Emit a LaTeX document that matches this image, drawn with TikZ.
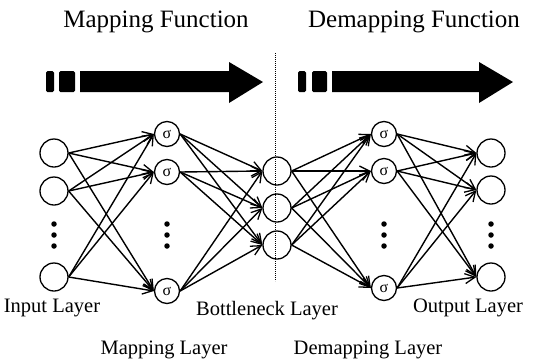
\documentclass[tikz,border=0pt]{standalone}
\usepackage{fontspec}
\setmainfont{Liberation Serif}
\usetikzlibrary{arrows.meta}
\begin{document}
\begin{tikzpicture}[x=1pt,y=-1pt,
  neuron/.style={circle,draw,line width=1.3pt,minimum size=28pt,inner sep=0pt},
  sig/.style={circle,draw,line width=1.3pt,minimum size=25pt,inner sep=0pt,font=\fontsize{16}{16}\selectfont},
  conn/.style={line width=1.4pt,-{Straight Barb[length=10pt,width=10pt,line width=1.3pt]}},
  titletext/.style={anchor=base,inner sep=0pt,font=\fontsize{25}{30}\selectfont},
  labeltext/.style={anchor=base,inner sep=0pt,font=\fontsize{20.5}{24}\selectfont},
  dotmark/.style={circle,fill,inner sep=0pt,minimum size=5.5pt},
  bigarrow/.style={fill=black},
  divider/.style={line width=0.9pt,dash pattern=on 1.2pt off 0.8pt}
]
\useasboundingbox (0,0) rectangle (544,360);

% titles
\node[titletext] (t1) at (156,27) {Mapping Function};
\node[titletext] (t2) at (414,27) {Demapping Function};

% big arrows
\fill[bigarrow,rounded corners=1.5pt] (46,71) rectangle (54,92);
\fill[bigarrow,rounded corners=1.5pt] (59,71) rectangle (75,92);
\fill[bigarrow] (80,71) -- (229,71) -- (229,62) -- (263,82) -- (229,103) -- (229,92) -- (80,92) -- cycle;
\fill[bigarrow,rounded corners=1.5pt] (298,71) rectangle (306,92);
\fill[bigarrow,rounded corners=1.5pt] (312,71) rectangle (327,92);
\fill[bigarrow] (332,71) -- (479,71) -- (479,62) -- (513,82) -- (479,103) -- (479,92) -- (332,92) -- cycle;

% divider
\coordinate (dtop) at (275,53);
\coordinate (dbot) at (275,281);
\draw[divider] (dtop) -- (dbot);

% input layer
\node[neuron] (I1) at (54,153) {};
\node[neuron] (I2) at (54,191) {};
\node[neuron] (I3) at (54,277) {};
% mapping layer
\node[sig] (M1) at (167,134) {σ};
\node[sig] (M2) at (167,172) {σ};
\node[sig] (M3) at (167,291) {σ};
% bottleneck layer
\node[neuron] (B1) at (277,171) {};
\node[neuron] (B2) at (277,208) {};
\node[neuron] (B3) at (277,245) {};
% demapping layer
\node[sig] (D1) at (384,134) {σ};
\node[sig] (D2) at (384,171) {σ};
\node[sig] (D3) at (384,288) {σ};
% output layer
\node[neuron] (O1) at (491,153) {};
\node[neuron] (O2) at (491,190) {};
\node[neuron] (O3) at (491,277) {};

% vertical dots
\foreach \x/\n in {54/a,167/b,384/c,491/d}{
  \node[dotmark] (dot\n1) at (\x,224) {};
  \node[dotmark] (dot\n2) at (\x,235) {};
  \node[dotmark] (dot\n3) at (\x,246) {};
}

% connections
\foreach \s in {I1,I2,I3}{\foreach \t in {M1,M2,M3}{\draw[conn] (\s.east) -- (\t.west);}}
\foreach \s in {M1,M2,M3}{\foreach \t in {B1,B2,B3}{\draw[conn] (\s.east) -- (\t.west);}}
\foreach \s in {B1,B2,B3}{\foreach \t in {D1,D2,D3}{\draw[conn] (\s.east) -- (\t.west);}}
\foreach \s in {D1,D2,D3}{\foreach \t in {O1,O2,O3}{\draw[conn] (\s.east) -- (\t.west);}}

% labels
\node[labeltext] (lin) at (52,312) {Input Layer};
\node[labeltext] (lbn) at (267,315) {Bottleneck Layer};
\node[labeltext] (lout) at (468,312) {Output Layer};
\node[labeltext] (lmap) at (164,354) {Mapping Layer};
\node[labeltext] (ldem) at (368,354) {Demapping Layer};
\end{tikzpicture}
\end{document}
